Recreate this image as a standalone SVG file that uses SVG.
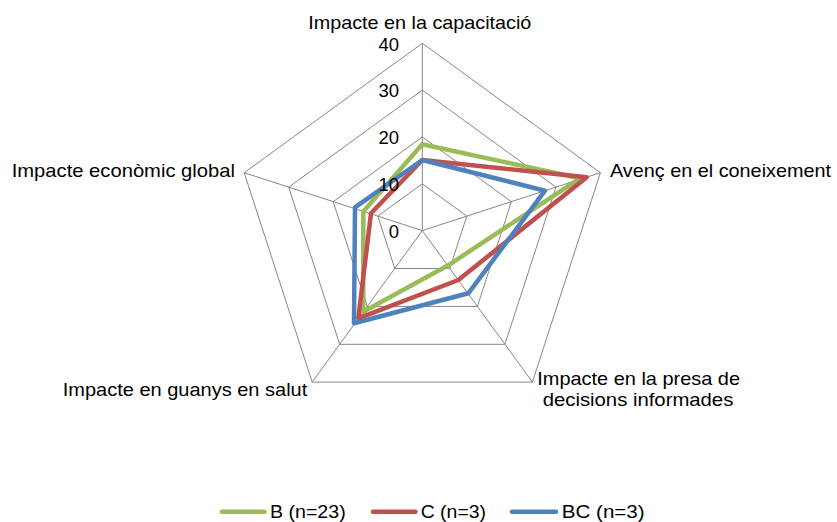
<svg xmlns="http://www.w3.org/2000/svg" width="837" height="522" viewBox="0 0 837 522">
  <style>
    .grid { fill: none; stroke: #868686; stroke-width: 1; }
    .lbl { font-family: "Liberation Sans", Arial, sans-serif; font-size: 18.5px; fill: #000; }
    .num { font-family: "Liberation Sans", Arial, sans-serif; font-size: 18.5px; fill: #000; text-anchor: end; }
    .ser { fill: none; stroke-width: 4.5; stroke-linejoin: round; }
    .leg { stroke-width: 4.5; stroke-linecap: round; }
    .b { stroke: #9BBB59; }
    .c { stroke: #C0504D; }
    .bc { stroke: #4F81BD; }
  </style>
  <rect x="0" y="0" width="837" height="522" fill="#fff"/>
  <g id="grid">
    <polygon class="grid" points="422.3,43.3 600.4,172.7 532.4,382.1 312.2,382.1 244.2,172.7"/>
    <polygon class="grid" points="422.3,90.1 556,187.2 504.9,344.3 339.7,344.3 288.7,187.2"/>
    <polygon class="grid" points="422.3,136.9 511.4,201.7 477.4,306.4 367.2,306.4 333.2,201.7"/>
    <polygon class="grid" points="422.3,183.8 466.8,216.1 449.8,268.5 394.8,268.5 377.8,216.1"/>
    <path class="grid" d="M422.3,230.6 L422.3,43.3 M422.3,230.6 L600.4,172.7 M422.3,230.6 L532.4,382.1 M422.3,230.6 L312.2,382.1 M422.3,230.6 L244.2,172.7"/>
  </g>
  <g id="axis-labels">
    <text class="lbl" x="308.3" y="29" textLength="223" lengthAdjust="spacingAndGlyphs">Impacte en la capacitació</text>
    <text class="lbl" x="610" y="177" textLength="221" lengthAdjust="spacingAndGlyphs">Avenç en el coneixement</text>
    <text class="lbl" x="537.3" y="385" textLength="202.7" lengthAdjust="spacingAndGlyphs">Impacte en la presa de</text>
    <text class="lbl" x="542.7" y="406" textLength="190.6" lengthAdjust="spacingAndGlyphs">decisions informades</text>
    <text class="lbl" x="62.7" y="396" textLength="244.6" lengthAdjust="spacingAndGlyphs">Impacte en guanys en salut</text>
    <text class="lbl" x="11.7" y="177" textLength="223.3" lengthAdjust="spacingAndGlyphs">Impacte econòmic global</text>
  </g>
  <g id="series">
    <polygon id="series-B" class="ser b" points="422.3,144.3 580,178.3 447.8,265.6 363.3,311.7 363.3,211.4"/>
    <polygon id="series-C" class="ser c" points="422.3,160 586.7,177.3 458.3,280 358.3,318.3 371,213.3"/>
    <polygon id="series-BC" class="ser bc" points="422.3,160 545,190.7 468.3,293.3 354,323.3 355,207.3"/>
  </g>
  <g id="scale">
    <text class="num" x="399" y="50.5">40</text>
    <text class="num" x="399" y="97.3">30</text>
    <text class="num" x="399" y="144.1">20</text>
    <text class="num" x="399" y="191">10</text>
    <text class="num" x="399" y="237.8">0</text>
  </g>
  <g id="legend">
    <g id="legend-B">
      <line class="leg b" x1="222" y1="511.7" x2="264.5" y2="511.7"/>
      <text class="lbl" x="270" y="518" textLength="75.7" lengthAdjust="spacingAndGlyphs">B (n=23)</text>
    </g>
    <g id="legend-C">
      <line class="leg c" x1="373" y1="511.7" x2="415.5" y2="511.7"/>
      <text class="lbl" x="420.7" y="518" textLength="65.3" lengthAdjust="spacingAndGlyphs">C (n=3)</text>
    </g>
    <g id="legend-BC">
      <line class="leg bc" x1="512" y1="511.7" x2="556" y2="511.7"/>
      <text class="lbl" x="561.7" y="518" textLength="83" lengthAdjust="spacingAndGlyphs">BC (n=3)</text>
    </g>
  </g>
</svg>
